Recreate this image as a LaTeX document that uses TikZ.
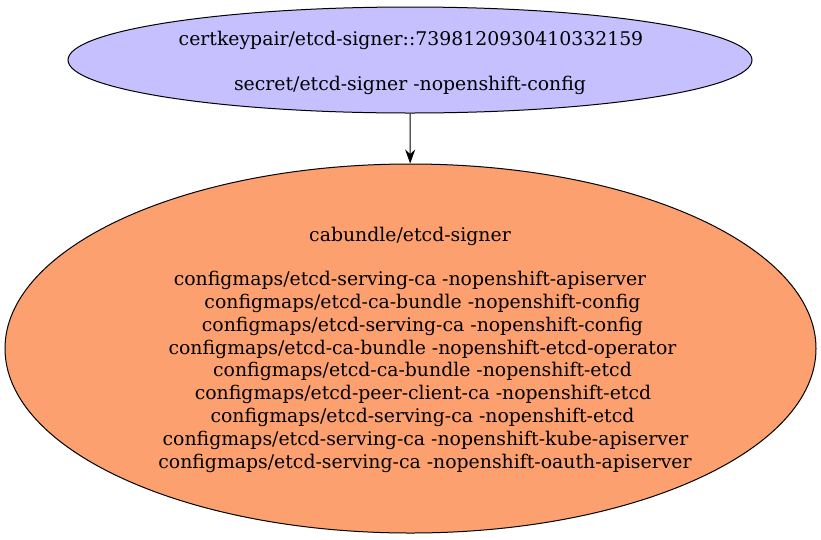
\documentclass[tikz,border=0pt]{standalone}
\usepackage{fontspec}
\setmainfont{DejaVu Serif}
\usetikzlibrary{shapes.geometric,arrows.meta}
\definecolor{topfill}{HTML}{C6C0FF}
\definecolor{botfill}{HTML}{FCA070}
\tikzset{
  ell/.style={ellipse, draw=black, line width=1pt, inner sep=0pt},
  lbl/.style={anchor=base, inner sep=0pt, font=\fontsize{18.85}{23}\selectfont},
  conn/.style={-{Stealth[length=14pt,width=10pt]}, line width=1pt}
}
\begin{document}
\begin{tikzpicture}[x=1pt,y=-1pt]
\useasboundingbox (0,0) rectangle (821,539);
\node[ell, fill=topfill, minimum width=684pt, minimum height=106pt] (top) at (410,60) {};
\node[lbl] (t1) at (411,45) {certkeypair/etcd-signer::7398120930410332159};
\node[lbl] (t2) at (410,90) {secret/etcd-signer -nopenshift-config};
\node[ell, fill=botfill, minimum width=811pt, minimum height=369pt] (bot) at (410.5,348.5) {};
\node[lbl] (b0) at (410,241.5) {cabundle/etcd-signer};
\foreach \i/\dx/\txt in {
  0/0/{configmaps/etcd-serving-ca -nopenshift-apiserver},
  1/12.5/{configmaps/etcd-ca-bundle -nopenshift-config},
  2/12.5/{configmaps/etcd-serving-ca -nopenshift-config},
  3/12.5/{configmaps/etcd-ca-bundle -nopenshift-etcd-operator},
  4/12.5/{configmaps/etcd-ca-bundle -nopenshift-etcd},
  5/13/{configmaps/etcd-peer-client-ca -nopenshift-etcd},
  6/12.5/{configmaps/etcd-serving-ca -nopenshift-etcd},
  7/15.5/{configmaps/etcd-serving-ca -nopenshift-kube-apiserver},
  8/15/{configmaps/etcd-serving-ca -nopenshift-oauth-apiserver}}
  \node[lbl] (b\i) at ({410+\dx},{285.7+22.8*\i}) {\txt};
\draw[conn] (top) -- (bot);
\end{tikzpicture}
\end{document}
